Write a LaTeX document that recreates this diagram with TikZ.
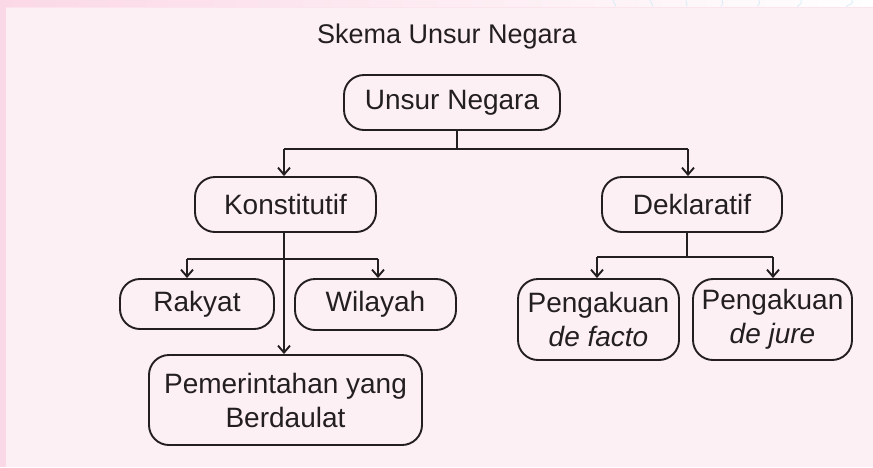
\documentclass[tikz,border=0pt]{standalone}
\usepackage{fontspec}
\setmainfont{Liberation Sans}
\usetikzlibrary{arrows.meta}
\definecolor{panel}{HTML}{FDF0F4}
\definecolor{strip}{HTML}{FBD8E6}
\definecolor{ink}{HTML}{231F20}
\definecolor{faintblue}{HTML}{D8ECF6}
\begin{document}
\begin{tikzpicture}[x=1pt,y=-1pt,
  box/.style={draw=ink, line width=1.9pt, rounded corners=20pt, inner sep=0pt,
    align=center, font=\fontsize{28}{34}\selectfont, text=ink},
  conn/.style={draw=ink, line width=1.9pt},
  arr/.style={conn, -{Straight Barb[length=7pt,width=12pt]}},
  titletext/.style={font=\fontsize{27}{32}\selectfont, text=ink, inner sep=0pt}]
\useasboundingbox (0,0) rectangle (873,467);
% background
\fill[white] (0,0) rectangle (873,467);
\shade[left color=strip, right color=white] (0,0) rectangle (873,7);
\fill[strip] (0,0) rectangle (6,467);
\fill[panel] (6,7) rectangle (873,467);
\draw[strip!70, line width=0.6pt] (6,7) -- (873,7);
\foreach \xa/\xb in {613/616,650/653,686/687,722/721,759/757,801/797,852/846}
  \draw[faintblue, line width=0.8pt] (\xa,0) .. controls (\xa+1,3) .. (\xb,6.5);
% nodes
\node[titletext] (title) at (447,37) {Skema Unsur Negara};
\node[box, minimum width=216pt, minimum height=55pt] (un) at (452,102.5) {Unsur Negara};
\node[box, minimum width=181pt, minimum height=55pt] (ko) at (285.5,204.5) {Konstitutif};
\node[box, minimum width=180pt, minimum height=55pt] (de) at (692,204.5) {Deklaratif};
\node[box, minimum width=154pt, minimum height=50pt] (ra) at (197,304) {Rakyat};
\node[box, minimum width=161pt, minimum height=51pt] (wi) at (375.5,304.5) {Wilayah};
\node[box, minimum width=273pt, minimum height=90pt] (pe) at (285.5,400) {Pemerintahan yang\\Berdaulat};
\node[box, minimum width=161pt, minimum height=81pt] (df) at (598.5,319.5) {Pengakuan\\\textit{de facto}};
\node[box, minimum width=159pt, minimum height=81pt] (dj) at (772.5,319.5) {Pengakuan\\\textit{de jure}};
% junctions
\coordinate (j0) at (457,149);
\coordinate (j0l) at (284,149);
\coordinate (j0r) at (688,149);
\coordinate (j1) at (284,259);
\coordinate (j1l) at (187,259);
\coordinate (j1r) at (378,259);
\coordinate (j2) at (687,257);
\coordinate (j2l) at (597,257);
\coordinate (j2r) at (773,257);
% connectors
\draw[conn] (un.south -| j0) -- (j0);
\draw[conn] (j0l) -- (j0r);
\draw[arr] (j0l) -- (j0l |- ko.north);
\draw[arr] (j0r) -- (j0r |- de.north);
\draw[arr] (ko.south -| j1) -- (pe.north -| j1);
\draw[conn] (j1l) -- (j1r);
\draw[arr] (j1l) -- (j1l |- ra.north);
\draw[arr] (j1r) -- (j1r |- wi.north);
\draw[conn] (de.south -| j2) -- (j2);
\draw[conn] (j2l) -- (j2r);
\draw[arr] (j2l) -- (j2l |- df.north);
\draw[arr] (j2r) -- (j2r |- dj.north);
\end{tikzpicture}
\end{document}
